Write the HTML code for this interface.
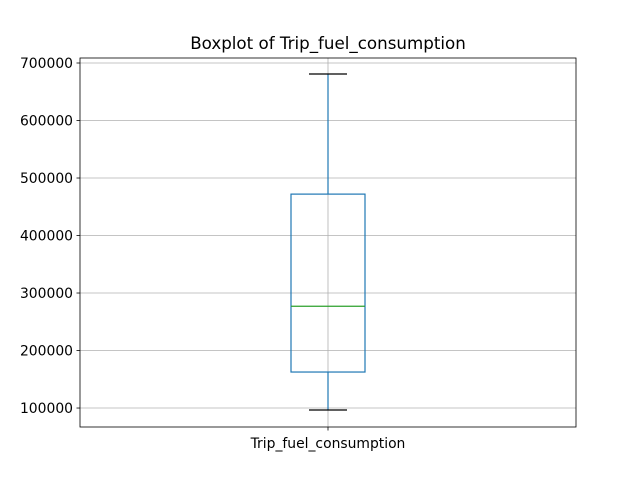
<!DOCTYPE html>
<html><head><meta charset="utf-8"><style>
body{margin:0;background:#fff}
svg text{font-family:"DejaVu Sans","Liberation Sans",sans-serif;fill:#000}
</style></head><body>
<svg id="chart" width="640" height="480"></svg>
<script>
const categories=["Trip_fuel_consumption"];
const whiskerLow=[96500];
const q1=[162600];
const median=[277000];
const q3=[472000];
const whiskerHigh=[680900];
const yTicks=[100000,200000,300000,400000,500000,600000,700000];
const yTickLabels=["100000","200000","300000","400000","500000","600000","700000"];
const title="Boxplot of Trip_fuel_consumption";

const NS="http://www.w3.org/2000/svg";
const svg=document.getElementById('chart');
const L=80,R=576,T=58,B=427,yMin=67000,yMax=708700;
const y=v=>B-(v-yMin)/(yMax-yMin)*(B-T);
const x=i=>L+(R-L)*(i+0.5)/categories.length;
function mk(tag,attrs,parent){const e=document.createElementNS(NS,tag);for(const k in attrs)e.setAttribute(k,attrs[k]);(parent||svg).appendChild(e);return e;}
const grid=mk('g',{});


yTicks.forEach((t,i)=>{
 const l=mk('line',{x1:L,x2:R,y1:y(t),y2:y(t),stroke:'#b0b0b0','stroke-width':0.8},grid);
 
 
 const tk=mk('line',{x1:L-3.5,x2:L,y1:y(t),y2:y(t),stroke:'#000','stroke-width':0.8});
 
 
 const tx=mk('text',{x:L-7,y:y(t)+5,'text-anchor':'end','font-size':13.9});
 tx.textContent=yTickLabels[i];
 
 
});
categories.forEach((c,i)=>{
 const cx=x(i);
 const g=mk('line',{x1:cx,x2:cx,y1:T,y2:B,stroke:'#b0b0b0','stroke-width':0.8},grid);
 
 
 const bw=74,cw=38;
 const box=mk('g',{});
 
 
 mk('line',{x1:cx,x2:cx,y1:y(q3[i]),y2:y(whiskerHigh[i]),stroke:'#1f77b4','stroke-width':1.2},box);
 mk('line',{x1:cx,x2:cx,y1:y(q1[i]),y2:y(whiskerLow[i]),stroke:'#1f77b4','stroke-width':1.2},box);
 mk('line',{x1:cx-cw/2,x2:cx+cw/2,y1:y(whiskerHigh[i]),y2:y(whiskerHigh[i]),stroke:'#000','stroke-width':1.2},box);
 mk('line',{x1:cx-cw/2,x2:cx+cw/2,y1:y(whiskerLow[i]),y2:y(whiskerLow[i]),stroke:'#000','stroke-width':1.2},box);
 mk('rect',{x:cx-bw/2,y:y(q3[i]),width:bw,height:y(q1[i])-y(q3[i]),fill:'none',stroke:'#1f77b4','stroke-width':1.2},box);
 mk('line',{x1:cx-bw/2,x2:cx+bw/2,y1:y(median[i]),y2:y(median[i]),stroke:'#2ca02c','stroke-width':1.2},box);
 const tk=mk('line',{x1:cx,x2:cx,y1:B,y2:B+3.5,stroke:'#000','stroke-width':0.8});
 
 
 const tx=mk('text',{x:cx,y:B+21,'text-anchor':'middle','font-size':13.9});
 tx.textContent=c;
 
 
});
const fr=mk('rect',{x:L,y:T,width:R-L,height:B-T,fill:'none',stroke:'#000','stroke-width':0.8});


const ti=mk('text',{x:(L+R)/2,y:49,'text-anchor':'middle','font-size':16.7});
ti.textContent=title;


</script>
</body></html>
